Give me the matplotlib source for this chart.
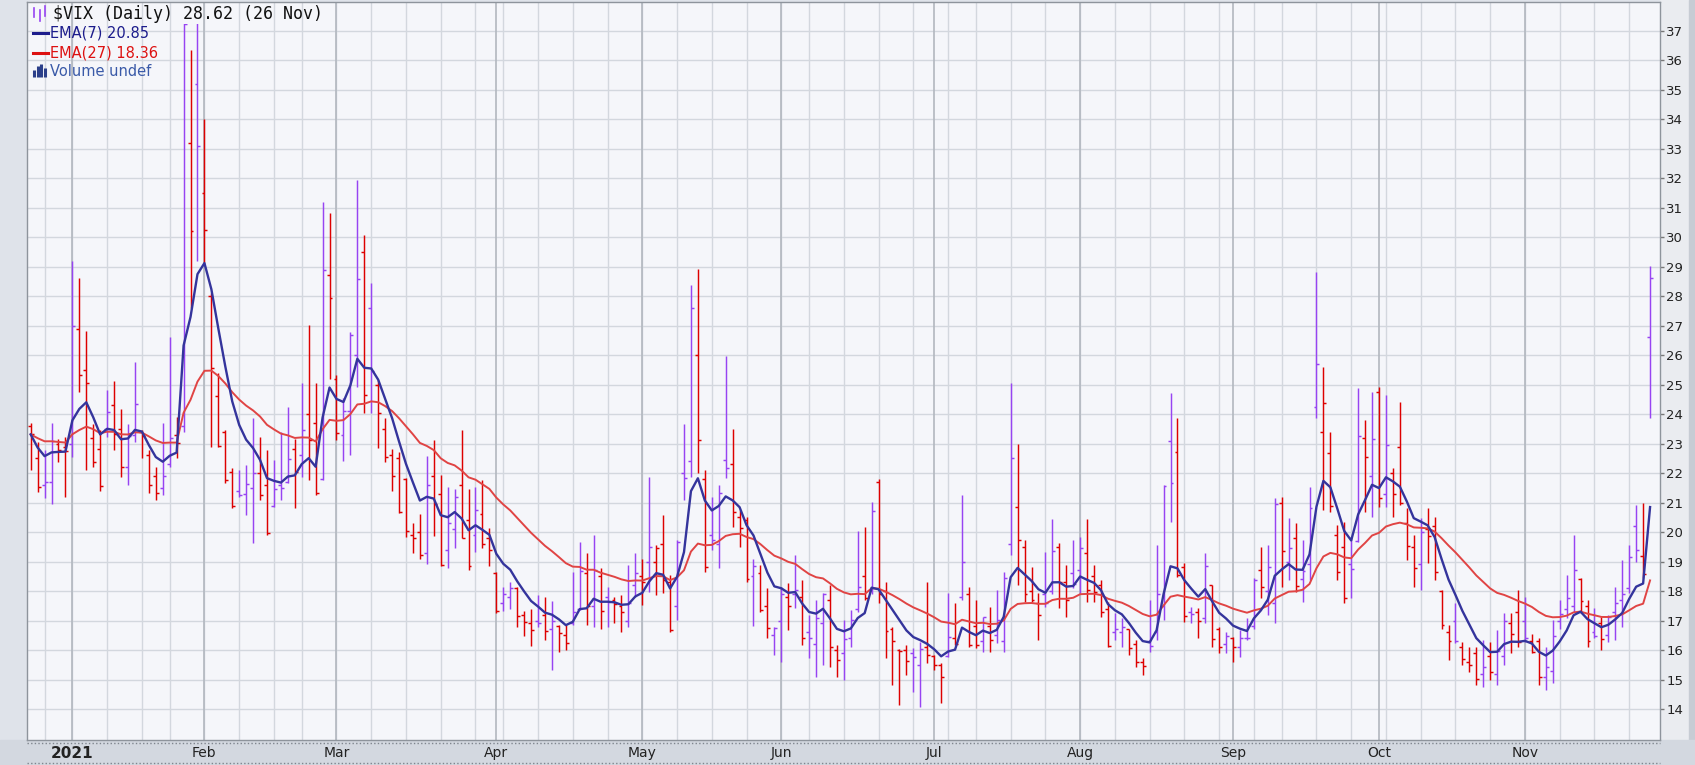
import numpy as np
import pandas as pd
import matplotlib
matplotlib.use("Agg")
import matplotlib.pyplot as plt
from matplotlib.collections import LineCollection
from matplotlib.patches import Rectangle
from matplotlib.lines import Line2D

# trading days on the chart: 23 Dec 2020 .. 26 Nov 2021, market holidays taken out
holidays = ["2020-12-25", "2021-01-01", "2021-01-18", "2021-02-15", "2021-04-02",
            "2021-05-31", "2021-07-05", "2021-09-06", "2021-11-25"]
days = pd.bdate_range("2020-12-23", "2021-11-26")
days = days[~days.isin(pd.to_datetime(holidays))]

month_labels = ["2021", "Feb", "Mar", "Apr", "May", "Jun", "Jul", "Aug", "Sep", "Oct", "Nov"]

# daily OHLC, one row per month (Dec .. Nov)
opens = [
    23.6, 22.5, 21.6, 21.7, 23.0, 22.9,
    23.0, 26.9, 25.5, 23.2, 22.8, 23.5, 24.3, 23.5, 22.2, 23.3, 23.4, 22.6, 21.9, 21.5, 22.3, 23.3, 23.6, 33.2, 35.2,
    31.5, 28.0, 24.6, 23.4, 22.05, 21.4, 21.3, 21.5, 22.0, 21.6, 20.9, 21.6, 21.7, 22.8, 22.6, 24.0, 23.7, 21.8, 28.7,
    25.2, 23.3, 24.1, 26.0, 29.5, 27.6, 25.0, 23.5, 22.6, 22.5, 21.8, 19.9, 20.0, 19.3, 21.9, 21.3, 19.4, 20.1, 21.6, 20.4, 19.9, 20.6, 19.8,
    18.6, 17.6, 17.8, 18.1, 17.2, 16.9, 17.0, 17.2, 16.7, 16.8, 16.5, 16.9, 17.4, 18.6, 17.5, 18.5, 17.8, 17.7, 17.5, 17.0, 18.2,
    18.5, 19.0, 19.0, 19.6, 18.3, 17.5, 22.0, 22.4, 26.0, 21.8, 19.9, 19.6, 22.44, 22.3, 20.5, 20.4, 18.5, 18.6, 17.5, 16.5,
    17.0, 17.8, 17.9, 17.8, 16.6, 16.2, 16.9, 17.7, 16.0, 15.9, 16.4, 17.4, 18.5, 18.0, 21.7, 18.0, 16.7, 16.0, 16.0, 15.9, 15.5, 16.1,
    15.8, 15.5, 15.8, 16.4, 17.8, 17.9, 16.8, 16.3, 16.8, 16.5, 16.3, 19.59, 20.85, 19.5, 18.0, 17.6, 17.9, 18.0, 19.5, 18.3, 18.6,
    18.7, 19.3, 18.5, 18.2, 17.4, 16.6, 16.6, 16.7, 16.2, 15.6, 16.3, 16.6, 17.5, 23.08, 22.72, 18.8, 17.3, 17.3, 17.1, 18.2, 16.7, 16.2,
    16.4, 16.1, 16.4, 16.8, 18.7, 18.0, 17.6, 21.0, 19.0, 19.8, 18.4, 18.9, 24.25, 23.4, 22.69, 19.9, 19.5, 18.9, 19.7, 23.2, 21.9,
    24.76, 21.3, 22.0, 22.9, 20.3, 19.5, 18.9, 20.1, 20.2, 18.0, 16.6, 17.0, 16.1, 15.6, 15.9, 15.2, 15.8, 15.2, 15.8, 16.9, 17.3,
    17.0, 16.3, 16.3, 15.1, 15.3, 17.0, 17.4, 17.5, 18.4, 17.5, 16.6, 16.9, 16.5, 17.3, 17.7, 18.1, 20.2, 19.2, 26.6,
]
highs = [
    23.7, 23.06, 22.78, 23.7, 23.14, 23.23,
    29.19, 28.6, 26.8, 23.68, 23.46, 24.81, 25.12, 24.16, 23.68, 25.77, 23.45, 22.78, 22.21, 23.7, 26.62, 23.91, 37.51, 36.34, 38.0,
    34.0, 28.1, 25.4, 23.45, 22.16, 22.1, 22.27, 23.85, 23.23, 22.78, 22.44, 23.4, 24.25, 23.17, 25.04, 27.02, 25.04, 31.2, 30.83,
    25.32, 24.53, 26.79, 31.93, 30.07, 28.43, 25.15, 23.85, 22.8, 22.7, 21.82, 20.29, 20.6, 22.58, 23.13, 21.95, 21.54, 21.47, 23.47, 21.47, 21.54, 21.75, 20.15,
    18.63, 18.15, 18.29, 18.15, 17.32, 17.39, 17.87, 17.8, 17.67, 16.84, 16.84, 18.66, 19.67, 19.28, 19.9, 18.77, 18.15, 17.81, 17.86, 18.88, 19.28,
    19.1, 21.88, 19.56, 20.58, 18.54, 19.73, 23.68, 28.37, 28.93, 22.1, 21.2, 21.59, 25.97, 23.51, 20.75, 20.52, 19.1, 18.88, 18.09, 16.79,
    18.15, 18.26, 19.22, 18.37, 17.19, 17.69, 17.92, 18.2, 16.17, 17.02, 17.36, 20.05, 20.16, 21.03, 21.8, 18.32, 16.79, 16.05, 16.17, 16.06, 16.28, 18.3,
    15.83, 15.55, 17.92, 17.58, 21.25, 18.15, 17.69, 17.13, 17.47, 18.03, 18.66, 25.06, 23.0, 19.73, 18.82, 17.92, 19.33, 20.43, 19.62, 18.88, 19.73,
    19.84, 20.43, 18.88, 18.37, 17.64, 17.24, 17.07, 16.73, 16.34, 15.72, 17.69, 19.56, 21.59, 24.7, 23.85, 18.94, 17.47, 17.41, 19.28, 18.2, 16.79, 16.6,
    16.45, 16.68, 17.07, 18.45, 19.5, 19.56, 21.14, 21.2, 20.46, 20.29, 19.73, 21.54, 28.82, 25.6, 23.4, 20.24, 20.35, 19.84, 24.87, 23.8, 24.76,
    24.93, 24.64, 22.18, 24.42, 20.8, 19.9, 20.46, 20.8, 20.52, 18.03, 16.85, 17.58, 16.28, 16.11, 16.11, 16.34, 16.28, 16.68, 17.24, 17.24, 18.03,
    17.81, 16.56, 16.4, 16.11, 17.02, 17.69, 18.54, 19.9, 18.45, 17.69, 17.41, 17.13, 17.19, 18.15, 19.05, 19.56, 20.92, 20.97, 29.02,
]
lows = [
    22.1, 21.37, 21.14, 20.95, 22.38, 21.2,
    22.56, 24.76, 22.1, 22.21, 21.4, 23.23, 22.78, 21.88, 21.6, 23.06, 22.5, 21.31, 21.08, 21.25, 22.21, 22.5, 23.4, 27.6, 29.2,
    29.1, 22.9, 22.9, 21.65, 20.8, 21.2, 20.58, 19.64, 21.08, 19.9, 20.86, 21.08, 21.65, 20.8, 21.88, 21.76, 21.25, 21.76, 25.2,
    23.12, 22.42, 22.6, 24.93, 24.02, 24.02, 22.84, 22.37, 21.4, 20.63, 19.82, 19.3, 19.1, 18.91, 19.88, 18.84, 18.77, 19.46, 19.81, 18.7, 19.32, 19.46, 18.84,
    17.25, 17.32, 17.39, 16.77, 16.49, 16.14, 16.77, 16.35, 15.31, 15.94, 16.0, 16.85, 17.36, 16.85, 16.79, 16.73, 16.79, 16.9, 16.62, 16.79, 17.81,
    17.53, 17.98, 17.86, 17.92, 16.62, 17.02, 21.1, 21.88, 22.0, 18.66, 19.4, 18.77, 21.82, 20.18, 19.5, 18.32, 16.8, 17.3, 16.4, 15.83,
    15.6, 16.68, 17.41, 16.17, 15.72, 15.1, 15.49, 15.44, 15.1, 14.98, 16.1, 17.3, 17.68, 17.9, 17.6, 15.72, 14.81, 14.14, 15.15, 14.59, 14.08, 15.55,
    15.32, 14.19, 15.77, 16.17, 17.69, 16.11, 16.06, 15.94, 15.94, 16.23, 15.94, 19.22, 18.2, 17.64, 17.64, 16.34, 17.47, 17.9, 17.41, 17.13, 18.1,
    17.92, 17.64, 17.64, 17.13, 16.11, 16.34, 16.11, 15.83, 15.44, 15.15, 15.94, 16.34, 17.02, 20.35, 18.49, 16.96, 16.9, 16.4, 16.9, 16.11, 15.89, 15.89,
    15.6, 15.77, 16.34, 16.7, 17.75, 17.2, 16.9, 18.15, 18.37, 17.98, 17.64, 18.37, 23.85, 20.75, 20.69, 18.37, 17.58, 17.75, 19.67, 20.69, 20.52,
    20.86, 20.86, 20.52, 20.92, 19.05, 18.15, 18.03, 18.94, 18.37, 16.73, 15.66, 16.23, 15.49, 15.27, 14.81, 14.76, 14.98, 14.81, 15.49, 15.89, 16.11,
    16.28, 15.89, 14.81, 14.64, 14.87, 16.73, 17.07, 17.3, 17.24, 16.11, 16.4, 16.0, 16.28, 16.34, 16.79, 17.92, 18.99, 18.43, 23.85,
]
closes = [
    23.31, 21.53, 21.70, 23.08, 22.77, 22.75,
    26.97, 25.34, 25.07, 22.37, 21.56, 24.08, 23.33, 22.21, 23.25, 24.34, 23.24, 21.58, 21.32, 21.91, 23.19, 23.02, 37.21, 30.21, 33.09,
    30.24, 25.56, 22.91, 21.77, 20.87, 21.24, 21.63, 21.99, 21.25, 19.97, 21.46, 21.50, 22.49, 22.05, 23.45, 23.11, 21.34, 28.89, 27.95,
    23.35, 24.10, 26.67, 28.57, 24.66, 25.47, 24.03, 22.56, 21.91, 20.69, 20.03, 19.79, 19.23, 21.58, 20.95, 18.88, 20.30, 21.20, 19.81, 18.86, 20.74, 19.61, 19.40,
    17.33, 17.91, 18.12, 17.16, 16.95, 16.69, 16.91, 16.65, 16.99, 16.57, 16.25, 17.30, 18.68, 17.50, 18.71, 17.33, 17.64, 17.56, 17.28, 17.61, 18.61,
    18.31, 19.48, 19.45, 18.39, 16.69, 19.66, 21.84, 27.59, 23.13, 18.81, 19.72, 21.34, 22.18, 20.67, 20.15, 18.40, 18.84, 17.36, 16.74, 16.76,
    17.90, 17.48, 18.04, 16.42, 16.42, 17.07, 17.89, 16.10, 15.65, 16.39, 17.02, 18.15, 17.75, 20.70, 17.89, 16.66, 16.32, 15.97, 15.62, 15.76, 16.02, 15.83,
    15.48, 15.07, 16.44, 16.20, 19.00, 16.18, 16.17, 17.12, 16.33, 17.01, 18.45, 22.50, 19.73, 17.91, 17.69, 17.20, 17.58, 19.36, 18.31, 17.70, 18.24,
    19.46, 18.04, 17.97, 17.28, 16.15, 16.72, 16.79, 16.06, 15.59, 15.45, 16.12, 17.91, 21.57, 21.67, 18.56, 17.15, 17.22, 17.00, 18.84, 16.39, 16.11, 16.48,
    16.11, 16.41, 16.41, 18.36, 18.15, 18.80, 20.95, 19.37, 19.46, 18.18, 18.69, 20.81, 25.71, 24.36, 20.87, 18.63, 17.75, 18.76, 23.25, 22.56, 23.14,
    21.15, 22.96, 21.30, 21.00, 19.54, 18.77, 20.00, 19.85, 18.64, 16.86, 16.30, 16.30, 15.70, 15.49, 15.01, 15.43, 15.24, 15.98, 16.98, 16.53, 16.26,
    16.41, 15.95, 15.10, 15.44, 16.48, 17.22, 17.78, 18.73, 17.66, 16.29, 16.49, 16.37, 17.11, 17.59, 17.91, 19.17, 19.38, 18.58, 28.62,
]

assert len(opens) == len(highs) == len(lows) == len(closes) == len(days)

W, H = 1695, 765
UP, DOWN = "#9744f2", "#dd0000"

fig = plt.figure(figsize=(W / 100, H / 100), dpi=100)
fig.patch.set_facecolor("#dfe3ea")

# frame decoration around the price panel
bg = fig.add_axes([0, 0, 1, 1], zorder=-5)
bg.set_xlim(0, W)
bg.set_ylim(H, 0)
bg.axis("off")
bg.add_patch(Rectangle((1660, 0), 35, H, color="#eaecf0"))
bg.add_patch(Rectangle((1689, 0), 6, H, color="#c7ccd4"))
bg.add_patch(Rectangle((0, 740), W, 25, color="#d3d8e0"))

ax = fig.add_axes([27 / W, 25 / H, 1633 / W, 738 / H])
ax.set_facecolor("#f5f6fa")

o, h, l, c = (np.asarray(v, dtype=float) for v in (opens, highs, lows, closes))
n = len(c)
x = np.arange(n)
ax.set_xlim(-0.53, n + 0.43)
ax.set_ylim(12.95, 37.97)

# grid: one line per integer, one per trading week, a darker one per month
week = days.isocalendar().week.to_numpy()
week_idx = [i for i in range(1, n) if week[i] != week[i - 1]]
month_idx = [i for i in range(1, n) if days[i].month != days[i - 1].month]
for v in range(14, 38):
    ax.axhline(v, color="#d3d7de", lw=1, zorder=0.5)
for i in week_idx:
    ax.axvline(i, color="#d3d7de", lw=1, zorder=0.5)
for i in month_idx:
    ax.axvline(i, color="#b2b7bf", lw=1.2, zorder=0.6)

# OHLC bars, coloured by close against previous close
prev = np.r_[o[0], c[:-1]]
cols = np.where(c >= prev, UP, DOWN)
tk = 0.42
segs = np.concatenate([
    np.stack([np.c_[x, l], np.c_[x, h]], axis=1),
    np.stack([np.c_[x - tk, o], np.c_[x, o]], axis=1),
    np.stack([np.c_[x, c], np.c_[x + tk, c]], axis=1),
])
lc = LineCollection(segs, colors=np.concatenate([cols] * 3), linewidths=1.05, zorder=2)
ax.add_collection(lc)
# the header row of the panel hides anything above ~37.2
lc.set_clip_path(Rectangle((-5, 0), n + 10, 37.22, transform=ax.transData))

ema7 = pd.Series(c).ewm(span=7, adjust=False).mean()
ema27 = pd.Series(c).ewm(span=27, adjust=False).mean()
ax.plot(x, ema27, color="#e04444", lw=1.4, zorder=3)
ax.plot(x, ema7, color="#34349c", lw=1.7, zorder=4)

ax.yaxis.tick_right()
ax.set_yticks(range(14, 38))
ax.tick_params(axis="y", length=3, width=1, color="#777777", labelsize=9.5,
               labelcolor="#222222", pad=1.5)
ax.set_xticks(month_idx, month_labels)
ax.tick_params(axis="x", length=0, pad=4, labelsize=10, labelcolor="#222222")
lab0 = ax.get_xticklabels()[0]
lab0.set_fontweight("bold")
lab0.set_fontsize(11)
for s in ax.spines.values():
    s.set_color("#8e949c")
    s.set_linewidth(1)

# dotted rows of the date strip
for py in (742.5, 763):
    fig.add_artist(Line2D([27 / W, 1660 / W], [1 - py / H] * 2, transform=fig.transFigure,
                          color="#7f858e", lw=1, dashes=(1, 1.6)))


def fx(px):
    return px / W


def fy(py):
    return 1 - py / H


# legend block in the top left corner
for xx, y0, y1 in ((34, 8, 17), (39.5, 10, 21), (45, 6, 16)):
    fig.add_artist(Line2D([fx(xx)] * 2, [fy(y0), fy(y1)], transform=fig.transFigure,
                          color=UP, lw=1.2))
fig.text(fx(53), fy(14), r"\$VIX (Daily) 28.62 (26 Nov)", family="DejaVu Sans Mono",
         fontsize=12, color="#111111", va="center")
fig.add_artist(Line2D([fx(33), fx(48)], [fy(33)] * 2, transform=fig.transFigure,
                      color="#1c1c8c", lw=2.2))
fig.text(fx(50), fy(33), "EMA(7) 20.85", fontsize=10.5, color="#1c1c8c", va="center")
fig.add_artist(Line2D([fx(33), fx(48)], [fy(53)] * 2, transform=fig.transFigure,
                      color="#dd1111", lw=2.2))
fig.text(fx(50), fy(53), "EMA(27) 18.36", fontsize=10.5, color="#dd1111", va="center")
for xx, top in ((34, 70), (37.5, 66), (41, 64), (44.5, 68)):
    fig.add_artist(Line2D([fx(xx)] * 2, [fy(77), fy(top)], transform=fig.transFigure,
                          color="#2b3f8a", lw=2.2, solid_capstyle="butt"))
fig.text(fx(50), fy(71), "Volume undef", fontsize=10.5, color="#3a5aa8", va="center")

fig.savefig("out.png", dpi=100, facecolor=fig.get_facecolor())
